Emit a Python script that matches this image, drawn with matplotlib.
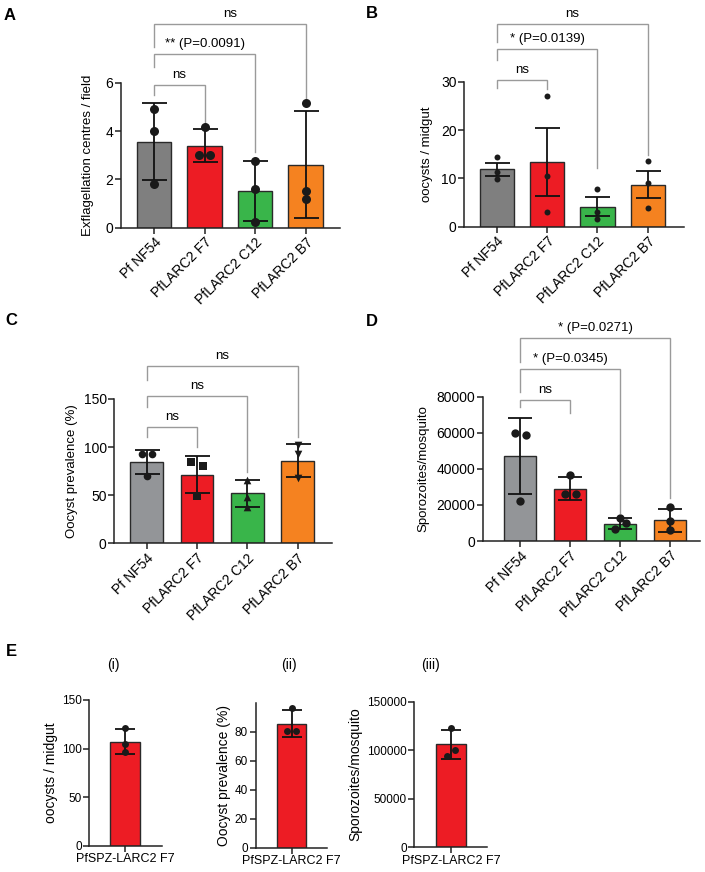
import matplotlib
matplotlib.use("Agg")
import matplotlib.pyplot as plt
import numpy as np

plt.rcParams['font.family'] = ['Liberation Sans', 'DejaVu Sans']
plt.rcParams['font.size'] = 9

# ---- data ----
strains = ["Pf NF54", "PfLARC2 F7", "PfLARC2 C12", "PfLARC2 B7"]

# A: exflagellation centres / field
exfl_mean = [3.55, 3.38, 1.52, 2.60]
exfl_lo = [1.97, 2.70, 0.27, 0.42]
exfl_hi = [5.15, 4.07, 2.78, 4.83]
exfl_pts = [[4.9, 4.0, 1.8], [4.15, 3.0, 3.0], [2.75, 1.6, 0.25], [5.15, 1.5, 1.2]]

# B: oocysts / midgut
ooc_mean = [11.9, 13.4, 4.1, 8.7]
ooc_lo = [10.5, 6.3, 2.2, 5.9]
ooc_hi = [13.2, 20.5, 6.1, 11.6]
ooc_pts = [[14.5, 11.4, 9.8], [27.0, 10.4, 3.0], [7.9, 3.1, 1.5], [13.5, 9.0, 3.8]]

# C: oocyst prevalence (%)
prev_mean = [84.2, 71.0, 52.0, 86.0]
prev_lo = [72.0, 52.6, 38.0, 69.0]
prev_hi = [97.0, 90.7, 65.5, 103.0]
prev_pts = [[92.5, 92.5, 70.0], [84.9, 80.7, 49.5], [65.5, 48.5, 38.0], [102.0, 93.0, 67.5]]

# D: sporozoites / mosquito
spz_mean = [47100, 28600, 9200, 11500]
spz_lo = [25900, 22500, 6500, 5200]
spz_hi = [68400, 35500, 12900, 17900]
spz_pts = [[59700, 58800, 22400], [36800, 25900, 25900], [12900, 6500, 9800], [18700, 11300, 6100]]

# E: PfSPZ-LARC2 F7
e_label = ["PfSPZ-LARC2 F7"]
e_ooc_mean, e_ooc_lo, e_ooc_hi, e_ooc_pts = [107.1], [94.4], [120.1], [[121.5, 104.7, 96.1]]
e_prev_mean, e_prev_lo, e_prev_hi, e_prev_pts = [85.1], [76.6], [94.7], [[96.1, 80.5, 80.5]]
e_spz_mean, e_spz_lo, e_spz_hi, e_spz_pts = [106000], [91000], [120800], [[122900, 94400, 100200]]

# comparisons vs Pf NF54: (target index, label)
cmp_A = [(1, "ns"), (2, "** (P=0.0091)"), (3, "ns")]
cmp_B = [(1, "ns"), (2, "* (P=0.0139)"), (3, "ns")]
cmp_C = [(1, "ns"), (2, "ns"), (3, "ns")]
cmp_D = [(1, "ns"), (2, "* (P=0.0345)"), (3, "* (P=0.0271)")]

# ---- styling ----
colors_dark = ["#7f7f7f", "#ed1c24", "#39b54a", "#f58220"]
colors_light = ["#939598", "#ed1c24", "#39b54a", "#f58220"]
W, H = 705, 872


def rect(left, right, y0, ytop):
    return [left / W, 1 - y0 / H, (right - left) / W, (y0 - ytop) / H]


def style_axes(ax, fontsize=10):
    for s in ["top", "right"]:
        ax.spines[s].set_visible(False)
    for s in ["left", "bottom"]:
        ax.spines[s].set_linewidth(1.1)
        ax.spines[s].set_color("#222222")
    ax.tick_params(direction="out", length=4, width=1.1, color="#222222",
                   labelsize=fontsize, pad=1.5)


def bar_panel(ax, names, mean, lo, hi, pts, colors, jitter, markers, msize,
              capsize, width=0.68):
    x = np.arange(len(mean))
    ax.bar(x, mean, width=width, color=colors, edgecolor="#2a2a2a",
           linewidth=1.0, zorder=2)
    yerr = [np.array(mean) - np.array(lo), np.array(hi) - np.array(mean)]
    ax.errorbar(x, mean, yerr=yerr, fmt="none", ecolor="#111111",
                elinewidth=1.3, capsize=capsize, capthick=1.3, zorder=3)
    for i, vals in enumerate(pts):
        ax.scatter(x[i] + np.array(jitter[i]), vals, s=msize ** 2,
                   marker=markers[i], color="#1a1a1a", zorder=4,
                   linewidths=0, clip_on=False)
    ax.set_xticks(x)
    ax.set_xticklabels(names)


def brackets(ax, comps, levels, left_legs, right_legs):
    for (j, label), yb, yl, yr in zip(comps, levels, left_legs, right_legs):
        ax.plot([0, 0, j, j], [yl, yb, yb, yr], color="#9a9a9a", lw=1.0,
                clip_on=False, zorder=1, solid_joinstyle="miter")
        ax.annotate(label, (j / 2, yb), xytext=(0, 3), textcoords="offset points",
                    ha="center", va="bottom", fontsize=9.5, annotation_clip=False)


fig = plt.figure(figsize=(W / 100, H / 100), dpi=100)

no_jit = [[0, 0, 0]] * 4
circles = ["o"] * 4

# ---- A ----
axA = fig.add_axes(rect(120.7, 340, 227.7, 82.7))
bar_panel(axA, strains, exfl_mean, exfl_lo, exfl_hi, exfl_pts, colors_dark,
          [[0, 0, 0], [0, -0.11, 0.11], [0, 0, 0], [0, 0, 0]], circles, 6.5, 9)
axA.set_xlim(-0.66, 3.68)
axA.set_ylim(0, 6)
axA.set_yticks([0, 2, 4, 6])
axA.set_ylabel("Exflagellation centres / field", fontsize=9.5, labelpad=8)
brackets(axA, cmp_A, [5.9, 7.19, 8.43], [5.49, 6.65, 7.48], [4.25, 3.13, 5.36])

# ---- B ----
axB = fig.add_axes(rect(464.3, 684, 226.7, 81.7))
bar_panel(axB, strains, ooc_mean, ooc_lo, ooc_hi, ooc_pts, colors_dark,
          no_jit, circles, 4.3, 9)
axB.set_xlim(-0.644, 3.72)
axB.set_ylim(0, 30)
axB.set_yticks([0, 10, 20, 30])
axB.set_ylabel("oocysts / midgut", fontsize=9.5, labelpad=6)
brackets(axB, cmp_B, [30.35, 36.7, 41.9], [28.6, 34.5, 38.3], [28.4, 12.1, 14.8])

# ---- C ----
axC = fig.add_axes(rect(114.3, 331.7, 543.3, 399))
bar_panel(axC, strains, prev_mean, prev_lo, prev_hi, prev_pts, colors_light,
          [[-0.1, 0.1, 0], [-0.11, 0.12, 0], [0, 0, 0], [0, 0, 0]],
          ["o", "s", "^", "v"], 5.5, 9, width=0.65)
axC.set_xlim(-0.644, 3.68)
axC.set_ylim(0, 150)
axC.set_yticks([0, 50, 100, 150])
axC.set_ylabel("Oocyst prevalence (%)", fontsize=9.5, labelpad=4)
brackets(axC, cmp_C, [120.9, 153.1, 184.3], [110.8, 142, 169.8], [100.4, 74.4, 110.8])

# ---- D ----
axD = fig.add_axes(rect(482.7, 700, 541, 396.7))
bar_panel(axD, strains, spz_mean, spz_lo, spz_hi, spz_pts, colors_light,
          [[-0.11, 0.12, 0], [0, -0.1, 0.12], [0, -0.1, 0.12], [0, 0, 0]],
          circles, 6, 8.5, width=0.64)
axD.set_xlim(-0.746, 3.6)
axD.set_ylim(0, 80000)
axD.set_yticks([0, 20000, 40000, 60000, 80000])
axD.set_ylabel("Sporozoites/mosquito", fontsize=9.5, labelpad=5)
brackets(axD, cmp_D, [78200, 95300, 112300], [74500, 82800, 99400], [70800, 15300, 23600])

for ax in (axA, axB, axC, axD):
    style_axes(ax, fontsize=10)
    for lab in ax.get_xticklabels():
        lab.set_rotation(45)
        lab.set_ha("right")
        lab.set_rotation_mode("anchor")
        lab.set_fontsize(10)

# ---- E ----
e_specs = [
    (rect(89.3, 161.7, 845.7, 700), e_ooc_mean, e_ooc_lo, e_ooc_hi, e_ooc_pts,
     [[0, 0, 0]], (0, 150), [0, 50, 100, 150], "oocysts / midgut", (-0.975, 1.0)),
    (rect(255.7, 326.7, 847.7, 702.7), e_prev_mean, e_prev_lo, e_prev_hi, e_prev_pts,
     [[0, -0.12, 0.12]], (0, 100), [0, 20, 40, 60, 80], "Oocyst prevalence (%)", (-1.0, 0.97)),
    (rect(414.3, 486.7, 847.3, 701.7), e_spz_mean, e_spz_lo, e_spz_hi, e_spz_pts,
     [[0, -0.12, 0.12]], (0, 150000), [0, 50000, 100000, 150000], "Sporozoites/mosquito", (-1.0, 0.975)),
]
for pos, m, lo, hi, pts, jit, ylim, yt, ylab, xlim in e_specs:
    ax = fig.add_axes(pos)
    bar_panel(ax, e_label, m, lo, hi, pts, ["#ed1c24"], jit, ["o"], 5, 7, width=0.8)
    ax.set_xlim(*xlim)
    ax.set_ylim(*ylim)
    ax.set_yticks(yt)
    ax.set_ylabel(ylab, fontsize=10, labelpad=3)
    style_axes(ax, fontsize=8.5)
    for lab in ax.get_xticklabels():
        lab.set_fontsize(9)

for txt, xp in [("(i)", 113), ("(ii)", 289), ("(iii)", 430)]:
    fig.text(xp / W, 1 - 665 / H, txt, ha="center", va="center", fontsize=10)

# panel letters
for txt, xp, yp in [("A", 10, 15), ("B", 372, 14), ("C", 11, 320),
                    ("D", 372, 321), ("E", 11, 652)]:
    fig.text(xp / W, 1 - yp / H, txt, ha="center", va="center", fontsize=12,
             fontweight="bold")

fig.savefig("out.png", dpi=100)
